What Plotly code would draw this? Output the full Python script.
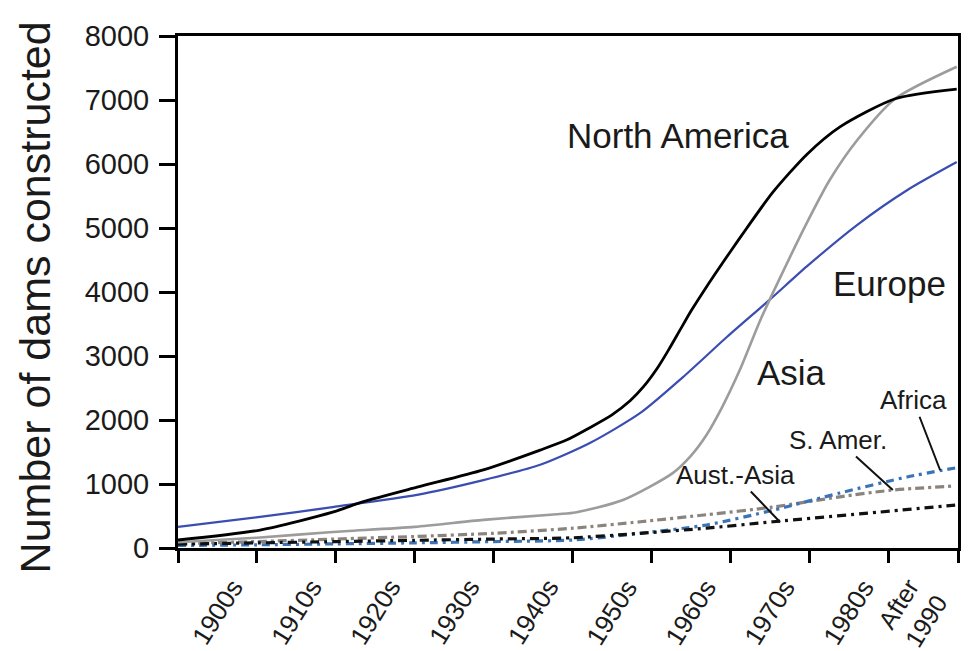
import plotly.graph_objects as go

# ---- data (x = decade index: 0 = axis start, boundaries between decades at integers) ----
na_x = [0, 1.04, 1.96, 2.34, 3.03, 3.87, 4.59, 4.93, 5.22, 5.5, 5.73, 5.9, 6.07, 6.22, 6.36, 6.5, 6.65, 6.8, 7.0, 7.21, 7.54, 7.97, 8.39, 9.09, 9.87]
na_y = [125, 280, 560, 720, 950, 1220, 1530, 1690, 1880, 2080, 2300, 2520, 2800, 3100, 3400, 3700, 3990, 4270, 4630, 5000, 5560, 6150, 6580, 7020, 7170]

eu_x = [0, 1.04, 1.96, 3.03, 3.87, 4.59, 5.22, 5.86, 6.40, 6.96, 7.50, 7.97, 8.61, 9.24, 9.87]
eu_y = [330, 485, 640, 830, 1060, 1300, 1640, 2110, 2670, 3300, 3880, 4400, 5050, 5590, 6030]

as_x = [0, 1.0, 1.96, 3.0, 3.87, 4.72, 5.01, 5.64, 6.27, 6.5, 6.70, 6.9, 7.12, 7.38, 7.63, 7.97, 8.26, 8.61, 9.09, 9.87]
as_y = [90, 160, 250, 330, 440, 520, 550, 750, 1170, 1440, 1770, 2210, 2780, 3560, 4220, 5080, 5750, 6375, 7020, 7520]

af_x = [0, 1, 2, 3, 4, 5.01, 5.86, 6.70, 7.54, 8.39, 9.24, 9.85]
af_y = [40, 50, 65, 80, 100, 125, 230, 360, 590, 860, 1110, 1250]

sa_x = [0, 1, 2, 3, 4, 5.01, 5.86, 6.70, 7.54, 8.39, 9.02, 9.85]
sa_y = [70, 100, 140, 180, 230, 310, 410, 520, 640, 800, 900, 970]

aa_x = [0, 1, 2, 3, 4, 5.01, 5.86, 6.70, 7.54, 8.88, 9.85]
aa_y = [60, 80, 100, 120, 140, 160, 230, 310, 410, 560, 670]

tick_pos = [0, 1, 2, 3, 4, 5, 6, 7, 8, 9, 9.886]
decade_labels = ["1900s", "1910s", "1920s", "1930s", "1940s", "1950s", "1960s", "1970s", "1980s", "After<br>1990"]
y_ticks = [0, 1000, 2000, 3000, 4000, 5000, 6000, 7000, 8000]

FONT = "Liberation Sans, Arial, sans-serif"
TXT = "#1a1a1a"

fig = go.Figure()
series = [
    (sa_x, sa_y, "#8a847e", "9px,4px,3px,4px", 3.2),
    (af_x, af_y, "#3a74b6", "8px,5px,3px,5px", 3.2),
    (aa_x, aa_y, "#111111", "9px,5px,3px,5px", 3.2),
    (eu_x, eu_y, "#3a4db0", "solid", 2.2),
    (as_x, as_y, "#9c9c9c", "solid", 2.6),
    (na_x, na_y, "#000000", "solid", 2.8),
]
for xs, ys, col, dash, w in series:
    fig.add_trace(go.Scatter(x=xs, y=ys, mode="lines",
                             line=dict(color=col, width=w, dash=dash, shape="spline", smoothing=0.7),
                             showlegend=False, hoverinfo="skip"))

big = dict(family=FONT, size=35, color=TXT)
small = dict(family=FONT, size=26, color=TXT)
fig.add_annotation(x=6.34, y=6450, text="North America", showarrow=False, font=big)
fig.add_annotation(x=9.02, y=4140, text="Europe", showarrow=False, font=big)
fig.add_annotation(x=7.77, y=2750, text="Asia", showarrow=False, font=big)
fig.add_annotation(x=9.66, y=1215, ax=-27, ay=-70, text="Africa", showarrow=True,
                   arrowhead=0, arrowwidth=2, arrowcolor="#111", font=small)
fig.add_annotation(x=9.06, y=906, ax=-55, ay=-50, text="S. Amer.", showarrow=True,
                   arrowhead=0, arrowwidth=2, arrowcolor="#111", font=small)
fig.add_annotation(x=7.63, y=406, ax=-45, ay=-47, text="Aust.-Asia", showarrow=True,
                   arrowhead=0, arrowwidth=2, arrowcolor="#111", font=small)

# decade labels centred in each interval, rotated
for i, lab in enumerate(decade_labels):
    mid = (tick_pos[i] + tick_pos[i + 1]) / 2
    two_line = "<br>" in lab
    fig.add_annotation(x=mid, xref="x", y=-0.125, yref="paper", text=lab, showarrow=False,
                       textangle=-58, font=dict(family=FONT, size=(25 if two_line else 26), color=TXT),
                       xanchor="center", yanchor="middle",
                       xshift=(-11 if two_line else 0))

# y-axis title
fig.add_annotation(x=-0.183, xref="paper", y=0.49, yref="paper", text="Number of dams constructed",
                   showarrow=False, textangle=-90, font=dict(family=FONT, size=43, color=TXT),
                   xanchor="center", yanchor="middle")

# page body has an 8px margin, so the figure is 962x643 and starts at (8, 8)
fig.update_layout(
    width=962, height=643,
    margin=dict(l=170, r=12, t=28, b=103, autoexpand=False),
    paper_bgcolor="white", plot_bgcolor="white",
    font=dict(family=FONT, color=TXT),
)
fig.update_xaxes(range=[0, 9.886], tickmode="array", tickvals=tick_pos, showticklabels=False,
                 showgrid=False, zeroline=False, showline=True, linecolor="black", linewidth=3,
                 mirror=True, ticks="outside", ticklen=12, tickwidth=3, tickcolor="black",
                 automargin=False)
fig.update_yaxes(range=[0, 8000], tickmode="array", tickvals=y_ticks,
                 tickfont=dict(family=FONT, size=29, color=TXT),
                 showgrid=False, zeroline=False, showline=True, linecolor="black", linewidth=3,
                 mirror=True, ticks="outside", ticklen=16, tickwidth=3, tickcolor="black",
                 ticklabelstandoff=4, automargin=False)

fig.write_html("out.html")
